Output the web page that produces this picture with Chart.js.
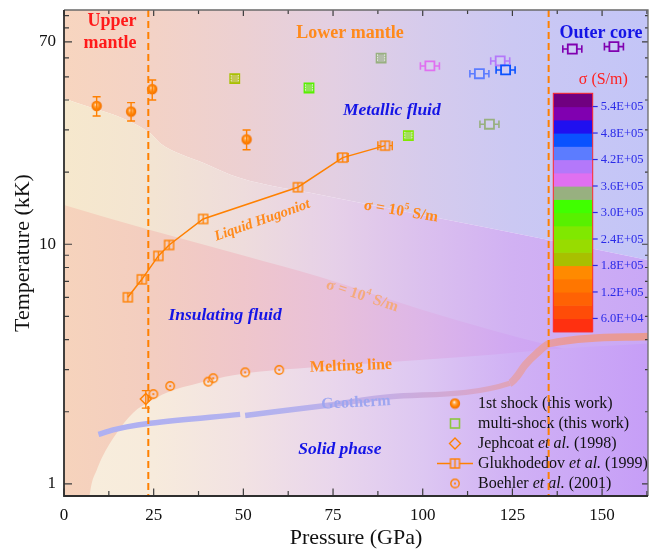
<!DOCTYPE html>
<html><head><meta charset="utf-8">
<script src="https://cdn.jsdelivr.net/npm/chart.js@4/dist/chart.umd.min.js"></script>
<style>html,body{margin:0;padding:0;background:#fff;}canvas{display:block;}</style>
</head><body>
<canvas id="c" width="649" height="554"></canvas>
<script>
// ================= DATA =================
const xTicks = [0, 25, 50, 75, 100, 125, 150];
const xMinorTicks = [12.5, 37.5, 62.5, 87.5, 112.5, 137.5, 162.5];
const yTicks = [1, 2, 3, 4, 5, 6, 7, 8, 9, 10, 20, 30, 40, 50, 60, 70, 80, 90];
const yMajorTicks = [1, 10, 70];
const yTickLabels = {1: '1', 10: '10', 70: '70'};

// 1st shock (this work)
const shockP = [9.1, 18.7, 24.6, 50.9];
const shockT = [37.8, 35.8, 44.4, 27.4];
const shockTLow = [34.3, 32.7, 40.0, 24.8];
const shockTHigh = [41.3, 39.0, 48.5, 30.0];

// multi-shock (this work)
const multiP = [47.6, 68.3, 88.4, 96.0, 102.0, 115.8, 118.6, 121.6, 123.1, 141.7, 153.3];
const multiT = [49.1, 44.9, 59.8, 28.4, 55.5, 51.5, 31.7, 58.2, 53.4, 65.3, 66.8];
const multiPErr = [1, 1, 1, 1, 2.65, 2.65, 2.65, 2.65, 2.65, 2.65, 2.65];
const multiSigma = [1.95e5, 2.85e5, 3.45e5, 2.55e5, 3.75e5, 4.35e5, 3.45e5, 4.05e5, 4.65e5, 5.25e5, 5.25e5];

// Jephcoat et al. (1998)
const jephP = [22.8];
const jephT = [2.26];
const jephTLow = [2.07];
const jephTHigh = [2.45];

// Glukhodedov et al. (1999) liquid Hugoniot
const glukP = [17.8, 21.7, 26.3, 29.3, 38.8, 65.2, 77.7, 89.5];
const glukT = [6.01, 7.14, 8.94, 9.93, 12.75, 17.3, 23.0, 25.8];
const glukPErr = [0, 0, 0, 0, 0, 0, 1.5, 2.0];

// Boehler et al. (2001)
const boehP = [24.9, 29.6, 40.2, 41.6, 50.5, 60.0];
const boehT = [2.37, 2.56, 2.67, 2.76, 2.92, 2.99];

// Geotherm (null = break in the curve)
const geoP = [9.6, 13.7, 17.5, 24.0, 49.1, 49.8, 50.5, 73.6, 90.9, 124.3, 126.2, 128.5, 131.8, 135.5, 162.8];
const geoT = [1.61, 1.68, 1.73, 1.79, 1.95, null, 1.93, 2.13, 2.31, 2.63, 2.80, 3.13, 3.51, 3.86, 4.12];

// Region boundaries
const meltP = [6.9, 7.7, 9.1, 10.5, 14.7, 19.3, 24.0, 28.6, 37.9, 47.2, 56.4, 74.1, 100, 120, 135, 162.8];
const meltT = [0.85, 1.0, 1.14, 1.28, 1.63, 1.98, 2.21, 2.40, 2.64, 2.84, 2.96, 3.10, 3.30, 3.47, 3.64, 3.85];
const sigma4P = [0, 24.0, 50.5, 71.4, 100, 120.1, 135, 162.8];
const sigma4T = [14.6, 11.47, 8.94, 7.30, 5.32, 4.35, 3.80, 3.08];
const sigma5P = [0, 24.0, 26.8, 39.1, 49.1, 71.4, 100, 135.5, 162.8];
const sigma5T = [40.7, 29.1, 26.4, 21.8, 18.9, 16.1, 13.25, 10.4, 8.6];

// Mantle / core boundaries (GPa)
const boundaryP = [23.5, 135.1];

// Colour bar (S/m), cells from 3.0E+04 upwards in steps of 3.0E+04
const cbarMin = 3.0e4;
const cbarStep = 3.0e4;
const cbarColors = ['#ff3010', '#ff4c08', '#ff6204', '#ff7600', '#ff8a00',
  '#a8c000', '#98dc00', '#80e800', '#58f000', '#40ff00', '#98b080',
  '#e070f0', '#b478fa', '#5c7cff', '#0a52ff', '#2010f0', '#8000b0', '#700080'];
const cbarTickValues = [6.0e4, 1.2e5, 1.8e5, 2.4e5, 3.0e5, 3.6e5, 4.2e5, 4.8e5, 5.4e5];
const cbarTickLabels = ['6.0E+04', '1.2E+05', '1.8E+05', '2.4E+05', '3.0E+05', '3.6E+05', '4.2E+05', '4.8E+05', '5.4E+05'];

// ================= STYLE =================
const FONT = "'Liberation Serif', 'Times New Roman', serif";
const ORANGE = '#ff8000';
const ORANGE_TXT = '#ff8a1c';
const BLUE_TXT = '#1414e6';

const metalStops = [[0, '#f7d5bf'], [25, '#f3d2c6'], [50, '#ecd0d2'], [75, '#e3cfe2'], [100, '#d6cbec'], [125, '#cbc8f3'], [163, '#c3c5f7']];
const bandStops = [[0, '#f6e8cd'], [25, '#f3e4d2'], [50, '#eedcdc'], [75, '#e6d0e8'], [100, '#dbc0ee'], [125, '#d1b1f3'], [163, '#c9a8f6']];
const insulStops = [[0, '#f6d3bc'], [25, '#f3cdc0'], [50, '#efc6cb'], [75, '#e8c0da'], [100, '#ddb6e8'], [125, '#d0a8f2'], [163, '#c69cf7']];
const solidStops = [[0, '#f8eedc'], [25, '#f7ebdc'], [50, '#f2e2e3'], [75, '#e9d6ec'], [100, '#ddc7f2'], [125, '#d0b1f5'], [163, '#c69ef7']];
const geoStops = [[0, '#aeb0f2'], [60, '#b4b2ee'], [90, '#c6aee4'], [115, '#d8a6cc'], [127, '#e2a2b2'], [140, '#e89a9e'], [163, '#e89a92']];

function pts(xs, ys) { return xs.map((x, i) => ({x: x, y: ys[i]})); }
function mk(w, h, fn) { const c = document.createElement('canvas'); c.width = w; c.height = h; fn(c.getContext('2d')); return c; }
function sigmaColor(s) { let i = Math.floor((s - cbarMin) / cbarStep); i = Math.max(0, Math.min(cbarColors.length - 1, i)); return cbarColors[i]; }
function withAlpha(hex, a) { const n = parseInt(hex.slice(1), 16); return `rgba(${n >> 16},${(n >> 8) & 255},${n & 255},${a})`; }
function hGrad(stops) {
  return (context) => {
    const chart = context.chart; const a = chart.chartArea;
    if (!a) return 'transparent';
    const g = chart.ctx.createLinearGradient(a.left, 0, a.right, 0);
    stops.forEach(([p, c]) => {
      const t = (chart.scales.x.getPixelForValue(p) - a.left) / a.width;
      g.addColorStop(Math.max(0, Math.min(1, t)), c);
    });
    return g;
  };
}

const shockImg = mk(12, 12, g => {
  const gr = g.createRadialGradient(5.2, 4.6, 0.2, 6, 6, 5.3);
  gr.addColorStop(0, '#fff6ea'); gr.addColorStop(0.28, '#ffab55'); gr.addColorStop(0.65, '#ff8200'); gr.addColorStop(1, '#f06c00');
  g.fillStyle = gr; g.beginPath(); g.arc(6, 6, 5.2, 0, Math.PI * 2); g.fill();
});
const boehImg = mk(12, 12, g => {
  g.strokeStyle = ORANGE; g.fillStyle = ORANGE; g.lineWidth = 1.4;
  g.beginPath(); g.arc(6, 6, 4.2, 0, Math.PI * 2); g.stroke();
  g.beginPath(); g.arc(6, 6, 1.1, 0, Math.PI * 2); g.fill();
});
const glukImg = mk(13, 13, g => {
  g.strokeStyle = ORANGE; g.lineWidth = 1.4;
  g.strokeRect(2, 2, 9, 9);
  g.beginPath(); g.moveTo(6.5, 2); g.lineTo(6.5, 11); g.stroke();
});

// ================= PLUGINS =================
const errSpecs = {
  shock: {tLow: shockTLow, tHigh: shockTHigh, cap: 4, lw: 1.4, color: () => ORANGE},
  jeph: {tLow: jephTLow, tHigh: jephTHigh, cap: 4, lw: 1.3, color: () => ORANGE},
  multi: {pErr: multiPErr, cap: 3.8, lw: 1.6, half: 4.5, color: i => sigmaColor(multiSigma[i]), inner: 'rgba(255,255,255,0.75)'},
  gluk: {pErr: glukPErr, cap: 4.5, lw: 1.4, half: 4.5, color: () => ORANGE}
};
const errPlugin = {
  id: 'errbars',
  afterDatasetDraw(chart, args) {
    const ds = chart.data.datasets[args.index];
    const spec = errSpecs[ds.label]; if (!spec) return;
    const {ctx, scales: {x, y}, chartArea: a} = chart;
    ctx.save(); ctx.beginPath(); ctx.rect(a.left, a.top, a.width, a.height); ctx.clip();
    ctx.lineWidth = spec.lw;
    ds.data.forEach((pt, i) => {
      ctx.strokeStyle = spec.color(i);
      const px = x.getPixelForValue(pt.x), py = y.getPixelForValue(pt.y);
      ctx.beginPath();
      if (spec.tLow) {
        const y1 = y.getPixelForValue(spec.tLow[i]), y2 = y.getPixelForValue(spec.tHigh[i]);
        ctx.moveTo(px, y1); ctx.lineTo(px, py - 5); ctx.moveTo(px, py + 5); ctx.lineTo(px, y2);
        ctx.moveTo(px - spec.cap, y1); ctx.lineTo(px + spec.cap, y1);
        ctx.moveTo(px - spec.cap, y2); ctx.lineTo(px + spec.cap, y2);
      }
      if (spec.pErr && spec.pErr[i] > 0) {
        const x1 = x.getPixelForValue(pt.x - spec.pErr[i]), x2 = x.getPixelForValue(pt.x + spec.pErr[i]);
        if (px - x1 > spec.half) {
          ctx.moveTo(x1, py); ctx.lineTo(px - spec.half, py); ctx.moveTo(px + spec.half, py); ctx.lineTo(x2, py);
        } else if (spec.inner) {
          ctx.stroke(); ctx.beginPath(); ctx.strokeStyle = spec.inner; ctx.lineWidth = 1;
          ctx.setLineDash([1.5, 1]);
        }
        ctx.moveTo(x1, py - spec.cap); ctx.lineTo(x1, py + spec.cap);
        ctx.moveTo(x2, py - spec.cap); ctx.lineTo(x2, py + spec.cap);
      }
      ctx.stroke();
      ctx.setLineDash([]); ctx.lineWidth = spec.lw;
    });
    ctx.restore();
  }
};

// text annotations placed in data coordinates
const annotations = [
  {runs: [['Upper']], p: 13.4, t: 85.1, rot: 0, font: 'bold 18px', color: '#ff1a1a'},
  {runs: [['mantle']], p: 12.8, t: 68.9, rot: 0, font: 'bold 18px', color: '#ff1a1a'},
  {runs: [['Lower mantle']], p: 79.7, t: 75.8, rot: 0, font: 'bold 18px', color: ORANGE_TXT},
  {runs: [['Outer core']], p: 149.7, t: 75.8, rot: 0, font: 'bold 18px', color: BLUE_TXT},
  {runs: [['Metallic fluid']], p: 91.4, t: 36.0, rot: 0, font: 'italic bold 17.5px', color: BLUE_TXT},
  {runs: [['Insulating fluid']], p: 44.9, t: 5.02, rot: 0, font: 'italic bold 17.5px', color: BLUE_TXT},
  {runs: [['Solid phase']], p: 76.9, t: 1.385, rot: 0, font: 'italic bold 17.5px', color: BLUE_TXT},
  {runs: [['Liquid Hugoniot']], p: 55.3, t: 12.57, rot: -19.5, font: 'italic bold 14.5px', color: ORANGE_TXT},
  {runs: [['\u03c3 = 10'], ['5', 'sup'], [' S/m']], p: 93.9, t: 13.7, rot: 9.6, font: 'bold 15.5px', color: ORANGE_TXT},
  {runs: [['\u03c3 = 10'], ['4', 'sup'], [' S/m']], p: 83.1, t: 6.08, rot: 18, font: 'bold 15.5px', color: '#f4aa7c'},
  {runs: [['Melting line']], p: 80.0, t: 3.10, rot: -2, font: 'bold 16px', color: ORANGE_TXT},
  {runs: [['Geotherm']], p: 81.4, t: 2.18, rot: -3, font: 'bold 16px', color: '#9ea6f0'}
];
function drawRuns(ctx, runs, baseFont, x, y, align) {
  const sizeM = baseFont.match(/([\d.]+)px/); const size = parseFloat(sizeM[1]);
  const prefix = baseFont.replace(/[\d.]+px/, '').trim();
  const fontFor = (r) => (r[1] === 'sup') ? `${prefix} ${(size * 0.62).toFixed(1)}px ${FONT}` : (r[1] === 'i' ? `italic ${prefix} ${size}px ${FONT}` : `${prefix} ${size}px ${FONT}`);
  let total = 0;
  runs.forEach(r => { ctx.font = fontFor(r); total += ctx.measureText(r[0]).width; });
  let cx = align === 'left' ? x : x - total / 2;
  ctx.textAlign = 'left'; ctx.textBaseline = 'middle';
  runs.forEach(r => {
    ctx.font = fontFor(r);
    const dy = r[1] === 'sup' ? -size * 0.38 : 0;
    ctx.fillText(r[0], cx, y + dy);
    cx += ctx.measureText(r[0]).width;
  });
}
const textPlugin = {
  id: 'texts',
  afterDatasetsDraw(chart) {
    const {ctx, scales: {x, y}} = chart;
    annotations.forEach(a => {
      ctx.save();
      ctx.translate(x.getPixelForValue(a.p), y.getPixelForValue(a.t));
      ctx.rotate(a.rot * Math.PI / 180);
      ctx.fillStyle = a.color;
      drawRuns(ctx, a.runs, a.font, 0, 0, 'center');
      ctx.restore();
    });
  }
};

// custom legend (mixed italic text)
const legendItems = [
  {sym: 'shock', runs: [['1st shock (this work)']]},
  {sym: 'multi', runs: [['multi-shock (this work)']]},
  {sym: 'jeph', runs: [['Jephcoat '], ['et al.', 'i'], [' (1998)']]},
  {sym: 'gluk', runs: [['Glukhodedov '], ['et al.', 'i'], [' (1999)']]},
  {sym: 'boeh', runs: [['Boehler '], ['et al.', 'i'], [' (2001)']]}
];
const legendPlugin = {
  id: 'customLegend',
  beforeDatasetsDraw(chart) {
    const {ctx, chartArea: a} = chart;
    const sx = a.left + 391, tx = a.left + 414, y0 = a.top + 393.5, dy = 20;
    legendItems.forEach((it, i) => {
      const yy = y0 + i * dy;
      ctx.save();
      if (it.sym === 'shock') ctx.drawImage(shockImg, sx - 6, yy - 6);
      if (it.sym === 'boeh') ctx.drawImage(boehImg, sx - 6, yy - 6);
      if (it.sym === 'multi') { ctx.strokeStyle = '#8cc63f'; ctx.lineWidth = 1.6; ctx.strokeRect(sx - 4.5, yy - 4.5, 9, 9); }
      if (it.sym === 'jeph') { ctx.strokeStyle = ORANGE; ctx.lineWidth = 1.4; ctx.beginPath(); ctx.moveTo(sx, yy - 5.5); ctx.lineTo(sx + 5.5, yy); ctx.lineTo(sx, yy + 5.5); ctx.lineTo(sx - 5.5, yy); ctx.closePath(); ctx.stroke(); }
      if (it.sym === 'gluk') { ctx.strokeStyle = ORANGE; ctx.lineWidth = 1.4; ctx.beginPath(); ctx.moveTo(sx - 18, yy); ctx.lineTo(sx - 4.5, yy); ctx.moveTo(sx + 4.5, yy); ctx.lineTo(sx + 18, yy); ctx.stroke(); ctx.drawImage(glukImg, sx - 6.5, yy - 6.5); }
      ctx.fillStyle = '#111';
      drawRuns(ctx, it.runs, '16px', tx, yy + 0.5, 'left');
      ctx.restore();
    });
  }
};

// colour bar (conductivity legend)
const cbarPlugin = {
  id: 'cbar',
  afterDatasetsDraw(chart) {
    const {ctx, chartArea: a} = chart;
    const L = a.left + 489.3, T = a.top + 83.3, W = 39.4, H = 238.4;
    const n = cbarColors.length, h = H / n, vmax = cbarMin + n * cbarStep;
    ctx.save();
    cbarColors.forEach((c, i) => { ctx.fillStyle = c; ctx.fillRect(L, T + H - (i + 1) * h, W, h + 0.6); });
    ctx.strokeStyle = '#ff2a2a'; ctx.lineWidth = 1; ctx.strokeRect(L, T, W, H);
    ctx.strokeStyle = '#2a2ae8'; ctx.fillStyle = '#2a2ae8'; ctx.lineWidth = 1.2;
    ctx.font = `12.5px ${FONT}`; ctx.textAlign = 'left'; ctx.textBaseline = 'middle';
    cbarTickValues.forEach((v, i) => {
      const yy = T + H - (v - cbarMin) / (vmax - cbarMin) * H;
      ctx.beginPath(); ctx.moveTo(L + W, yy); ctx.lineTo(L + W + 5, yy); ctx.stroke();
      ctx.fillText(cbarTickLabels[i], L + W + 8, yy + 0.5);
    });
    ctx.fillStyle = '#ff2020'; ctx.font = `16px ${FONT}`; ctx.textAlign = 'center';
    ctx.fillText('\u03c3 (S/m)', L + 50, T - 14);
    ctx.restore();
  }
};

// frame with inward ticks on all sides
const framePlugin = {
  id: 'frame',
  afterDraw(chart) {
    const {ctx, chartArea: a, scales: {x, y}} = chart;
    ctx.save();
    ctx.strokeStyle = '#3c3c3c'; ctx.lineWidth = 1.2;
    ctx.beginPath();
    xTicks.forEach(v => { const p = x.getPixelForValue(v); ctx.moveTo(p, a.bottom); ctx.lineTo(p, a.bottom - 7.5); ctx.moveTo(p, a.top); ctx.lineTo(p, a.top + 6); });
    xMinorTicks.forEach(v => { const p = x.getPixelForValue(v); if (p > a.right) return; ctx.moveTo(p, a.bottom); ctx.lineTo(p, a.bottom - 5); ctx.moveTo(p, a.top); ctx.lineTo(p, a.top + 4); });
    yTicks.forEach(v => { const p = y.getPixelForValue(v); const L = yMajorTicks.includes(v) ? 8 : 5; ctx.moveTo(a.left, p); ctx.lineTo(a.left + L, p); ctx.moveTo(a.right, p); ctx.lineTo(a.right - (L - 2), p); });
    ctx.stroke();
    ctx.strokeStyle = '#6a6a6a'; ctx.lineWidth = 1.3;
    ctx.beginPath(); ctx.moveTo(a.left, a.top); ctx.lineTo(a.right, a.top); ctx.lineTo(a.right, a.bottom); ctx.stroke();
    ctx.strokeStyle = '#2e2e2e'; ctx.lineWidth = 1.8;
    ctx.beginPath(); ctx.moveTo(a.left, a.top); ctx.lineTo(a.left, a.bottom); ctx.lineTo(a.right, a.bottom); ctx.stroke();
    ctx.restore();
  }
};

// ================= CHART =================
const bgCommon = {borderColor: 'transparent', borderWidth: 0, pointRadius: 0, cubicInterpolationMode: 'monotone'};
const chart = new Chart(document.getElementById('c'), {
  type: 'line',
  data: {
    datasets: [
      Object.assign({label: 'bgMetal', data: pts(sigma5P, sigma5T), fill: 'end', backgroundColor: hGrad(metalStops), order: 104}, bgCommon),
      Object.assign({label: 'bgBand', data: pts(sigma5P, sigma5T), fill: 'start', backgroundColor: hGrad(bandStops), order: 103}, bgCommon),
      Object.assign({label: 'bgInsul', data: pts(sigma4P, sigma4T), fill: 'start', backgroundColor: hGrad(insulStops), order: 102}, bgCommon),
      Object.assign({label: 'bgSolid', data: pts(meltP, meltT), fill: 'start', backgroundColor: hGrad(solidStops), order: 101}, bgCommon),
      {label: 'geotherm', data: pts(geoP, geoT), borderColor: hGrad(geoStops), borderWidth: 5.5, fill: false, pointRadius: 0,
        cubicInterpolationMode: 'monotone', spanGaps: false, borderJoinStyle: 'round',
        segment: {borderWidth: c => (c.p0.parsed.x >= 124 ? 7.5 : 5.5)}, order: 60},
      {label: 'gluk', data: pts(glukP, glukT), borderColor: ORANGE, borderWidth: 1.5, fill: false, tension: 0,
        pointStyle: glukImg, pointRadius: 6, order: 40},
      {label: 'boeh', data: pts(boehP, boehT), showLine: false, pointStyle: boehImg, pointRadius: 5, order: 35},
      {label: 'jeph', data: pts(jephP, jephT), showLine: false, pointStyle: 'rectRot', pointRadius: 5.5,
        pointBorderColor: ORANGE, pointBackgroundColor: 'transparent', pointBorderWidth: 1.4, order: 34},
      {label: 'multi', data: pts(multiP, multiT), showLine: false, pointStyle: 'rect', pointRadius: 6.4,
        pointBorderColor: multiSigma.map(sigmaColor),
        pointBackgroundColor: multiSigma.map((s, i) => (multiPErr[i] <= 1 ? withAlpha(sigmaColor(s), 0.6) : 'rgba(255,255,255,0.1)')),
        pointBorderWidth: 1.8, order: 30},
      {label: 'shock', data: pts(shockP, shockT), showLine: false, pointStyle: shockImg, pointRadius: 5, order: 20},
      {label: 'bound1', data: [{x: boundaryP[0], y: 0.5}, {x: boundaryP[0], y: 200}], borderColor: ORANGE, borderWidth: 2,
        borderDash: [7, 4], pointRadius: 0, fill: false, order: -1},
      {label: 'bound2', data: [{x: boundaryP[1], y: 0.5}, {x: boundaryP[1], y: 200}], borderColor: ORANGE, borderWidth: 2,
        borderDash: [7, 4], pointRadius: 0, fill: false, order: -1}
    ]
  },
  options: {
    responsive: false, animation: false, devicePixelRatio: 1, events: [],
    layout: {autoPadding: false, padding: {top: 10, right: 1, left: 0, bottom: 0}},
    plugins: {legend: {display: false}, tooltip: {enabled: false}, filler: {drawTime: 'beforeDraw'}},
    scales: {
      x: {
        type: 'linear', min: 0, max: 162.8,
        afterFit: s => { s.height = 58; s.paddingLeft = 0; s.paddingRight = 0; },
        afterBuildTicks: s => { s.ticks = xTicks.map(v => ({value: v})); },
        grid: {display: false, drawTicks: false}, border: {display: false},
        ticks: {autoSkip: false, maxRotation: 0, padding: 9, color: '#111', font: {family: FONT, size: 17}, callback: v => String(v)},
        title: {display: true, text: 'Pressure (GPa)', color: '#111', font: {family: FONT, size: 22}, padding: {top: 0, bottom: 3}}
      },
      y: {
        type: 'logarithmic', min: 0.89, max: 95,
        afterFit: s => { s.width = 64; s.paddingTop = 0; s.paddingBottom = 0; },
        afterBuildTicks: s => { s.ticks = yTicks.map(v => ({value: v})); },
        grid: {display: false, drawTicks: false}, border: {display: false},
        ticks: {autoSkip: false, padding: 8, color: '#111', font: {family: FONT, size: 17}, callback: v => (yTickLabels[v] || '')},
        title: {display: true, text: 'Temperature (kK)', color: '#111', font: {family: FONT, size: 22}, padding: {top: 10, bottom: 0}}
      }
    }
  },
  plugins: [errPlugin, textPlugin, legendPlugin, cbarPlugin, framePlugin]
});
</script>
</body></html>
